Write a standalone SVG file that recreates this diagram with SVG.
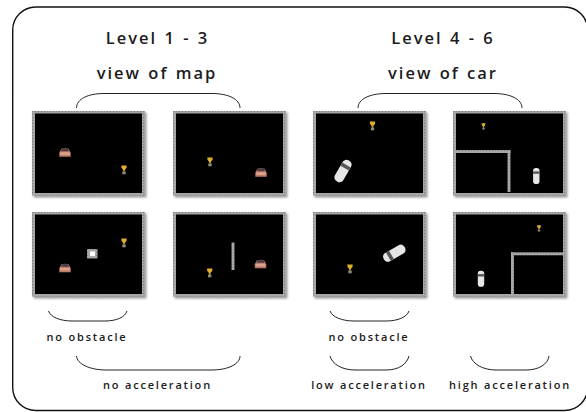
<svg xmlns="http://www.w3.org/2000/svg" width="586" height="412" viewBox="0 0 586 412">
  <style>
    text { font-family: "Open Sans", "Liberation Sans", sans-serif; fill: #1c1c1c; text-anchor: middle; }
    .title { font-size: 16.5px; font-weight: 600; letter-spacing: 2px; word-spacing: 1px; }
    .note { font-size: 11px; font-weight: 600; letter-spacing: 1.8px; }
    .brace { fill: none; stroke: #222; stroke-width: 1; }
    .frame { fill: none; stroke: #111; stroke-width: 1.4; }
    .wall { fill: url(#gravel); }
    .shadow { fill: #999; filter: url(#soft); }
    .field { fill: #000; }
  </style>
  <defs>
    <filter id="soft" x="-5%" y="-5%" width="110%" height="110%">
      <feGaussianBlur stdDeviation="0.9"/>
    </filter>
    <pattern id="gravel" width="3" height="3" patternUnits="userSpaceOnUse">
      <rect width="3" height="3" fill="#a2a2a2"/>
      <rect width="1" height="1" fill="#808080"/>
      <rect x="1.5" y="1.5" width="1" height="1" fill="#bcbcbc"/>
    </pattern>
    <g id="arena">
      <rect class="shadow" x="1.5" y="1.5" width="113" height="85"/>
      <rect class="wall" width="113" height="84.5"/>
      <rect class="field" x="3" y="2.5" width="107" height="79.5"/>
    </g>
    <g id="redcar">
      <path d="M-5.700 4.200 V0.200 L-3.600 -3.800 Q0 -4.500 3.600 -3.800 L5.700 0.200 V4.200 Z" fill="#bd7a66"/>
      <path d="M-3.200 -3.800 Q0 -4.400 3.200 -3.800 L4 -1.200 H-4 Z" fill="#4a3a48"/>
      <rect x="-4.800" y="-0.200" width="9.600" height="2.600" fill="#dba38c"/>
    </g>
    <g id="cup">
      <path d="M-2.600 -4.600 H2.600 V-2.200 L0.800 0 V1.500 H-0.800 V0 L-2.600 -2.200 Z" fill="#e0ad2e"/>
      <rect x="-1.700" y="1.500" width="3.400" height="2.800" fill="#8f8c74"/>
    </g>
    <g id="whitecar">
      <rect x="-3.200" y="-8" width="6.400" height="16" rx="2.800" fill="#e6e6e6"/>
      <rect x="-3.200" y="-4.600" width="6.400" height="2.400" fill="#555"/>
    </g>
  </defs>

  <rect class="frame" x="12.700" y="7" width="575" height="403.500" rx="23" ry="23"/>

  <g id="headings">
    <text class="title" x="157.500" y="44">Level 1 - 3</text>
    <text class="title" x="157" y="79">view of map</text>
    <text class="title" x="443" y="44">Level 4 - 6</text>
    <text class="title" x="443" y="79">view of car</text>
  </g>

  <g id="connectors">
    <path class="brace" d="M76.500 108 C76.500 99 88 93.500 104 93.500 H212 C228 93.500 240 99 240 108"/>
    <path class="brace" d="M358 108 C358 99 370 93.500 386 93.500 H494 C510 93.500 522 99 522 108"/>
    <path class="brace" d="M48.500 311 C50.500 317 60 321 72 321 H105 C117 321 125 317 127 311"/>
    <path class="brace" d="M76.500 356 C77 364 90 370 106 370 H212 C228 370 240 364 240 356"/>
    <path class="brace" d="M330 311 C332 317 342 321 354 321 H386 C398 321 407 317 409 311"/>
    <path class="brace" d="M330 356 C332 364 342 370 355 370 H386 C399 370 407 364 409 356"/>
    <path class="brace" d="M470.500 356 C472.500 364 483 370 496 370 H526 C539 370 548 364 549 356"/>
  </g>

  <g id="map-1"><use href="#arena" x="32" y="111"/><use href="#redcar" x="65" y="152.500"/><use href="#cup" x="124" y="170"/></g>
  <g id="map-2"><use href="#arena" x="173" y="111"/><use href="#cup" x="210" y="162"/><use href="#redcar" x="261" y="172.500"/></g>
  <g id="car-1"><use href="#arena" x="313" y="111"/><use href="#cup" x="372.500" y="126"/><use href="#whitecar" transform="translate(343 171) rotate(30) scale(1.500)"/></g>
  <g id="car-2">
    <use href="#arena" x="453" y="111"/>
    <rect class="wall" x="456" y="150" width="54.500" height="3"/>
    <rect class="wall" x="507.500" y="150" width="3" height="42"/>
    <use href="#cup" transform="translate(483.500 126.500) scale(0.7)"/>
    <use href="#whitecar" x="536.300" y="176"/>
  </g>
  <g id="map-3">
    <use href="#arena" x="32" y="212"/>
    <rect class="wall" x="87" y="249" width="10.500" height="9.500"/>
    <rect x="90" y="251.500" width="5" height="4.500" fill="#fff"/>
    <use href="#redcar" x="65" y="268"/>
    <use href="#cup" x="124" y="243"/>
  </g>
  <g id="map-4">
    <use href="#arena" x="173" y="212"/>
    <rect class="wall" x="231.500" y="242.500" width="3" height="27.500"/>
    <use href="#cup" x="209.700" y="273"/>
    <use href="#redcar" x="260.500" y="264"/>
  </g>
  <g id="car-3">
    <use href="#arena" x="313" y="212"/>
    <use href="#cup" x="350" y="269"/>
    <use href="#whitecar" transform="translate(394.300 253.200) rotate(-120) scale(1.500)"/>
  </g>
  <g id="car-4">
    <use href="#arena" x="453" y="212"/>
    <rect class="wall" x="511" y="252.300" width="53" height="3"/>
    <rect class="wall" x="511" y="252.300" width="3" height="42"/>
    <use href="#cup" transform="translate(539 228.500) scale(0.7)"/>
    <use href="#whitecar" x="481" y="278.700"/>
  </g>

  <g id="captions">
    <text class="note" x="87" y="340.500">no obstacle</text>
    <text class="note" x="157.500" y="388.500">no acceleration</text>
    <text class="note" x="369" y="340.500">no obstacle</text>
    <text class="note" x="369" y="388.500">low acceleration</text>
    <text class="note" x="510" y="388.500">high acceleration</text>
  </g>
</svg>
